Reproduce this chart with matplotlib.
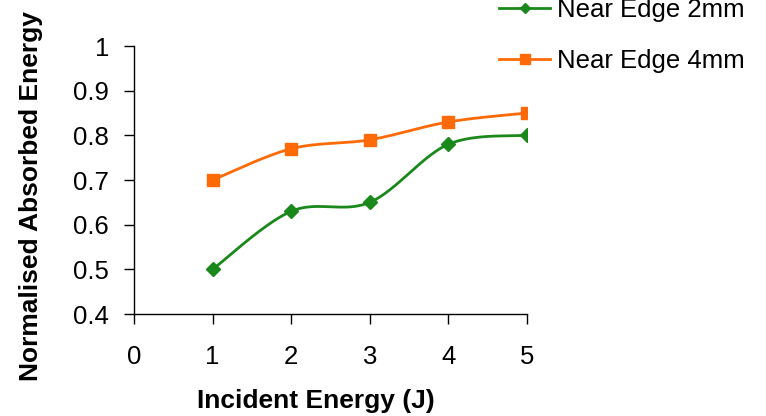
import numpy as np
import matplotlib
matplotlib.use("Agg")
import matplotlib.pyplot as plt
from matplotlib.lines import Line2D

plt.rcParams['font.family'] = ['Liberation Sans', 'DejaVu Sans']

energy = [1, 2, 3, 4, 5]
edge_2mm = [0.50, 0.63, 0.65, 0.78, 0.80]
edge_4mm = [0.70, 0.77, 0.79, 0.83, 0.85]
labels = ["Near Edge 2mm", "Near Edge 4mm"]
x_ticks = [0, 1, 2, 3, 4, 5]
y_ticks = [0.4, 0.5, 0.6, 0.7, 0.8, 0.9, 1.0]
y_tick_labels = ["0.4", "0.5", "0.6", "0.7", "0.8", "0.9", "1"]


def smooth(xs, ys, n=40):
    """Catmull-Rom style cubic Bezier smoothing through the given points."""
    p = np.column_stack([xs, ys]).astype(float)
    ext = np.vstack([p[0], p, p[-1]])
    out = []
    t = np.linspace(0, 1, n)[:, None]
    for i in range(1, len(ext) - 2):
        p0, p1, p2, p3 = ext[i - 1], ext[i], ext[i + 1], ext[i + 2]
        c1 = p1 + (p2 - p0) / 6.0
        c2 = p2 - (p3 - p1) / 6.0
        seg = ((1 - t) ** 3) * p1 + 3 * ((1 - t) ** 2) * t * c1 + 3 * (1 - t) * t ** 2 * c2 + t ** 3 * p2
        out.append(seg if i == 1 else seg[1:])
    s = np.vstack(out)
    return s[:, 0], s[:, 1]


W, H = 766, 416
fig = plt.figure(figsize=(W / 100, H / 100), dpi=100)
ax = fig.add_axes([134 / W, 1 - 314 / H, (527 - 134) / W, (314 - 46) / H])

green = '#1a881a'
orange = '#ff6a06'

sx, sy = smooth(energy, edge_2mm)
ax.plot(sx, sy, color=green, lw=2.0, solid_capstyle='round')
ax.plot(energy, edge_2mm, linestyle='none', marker='D', markersize=6.8, color=green)

sx, sy = smooth(energy, edge_4mm)
ax.plot(sx, sy, color=orange, lw=2.0, solid_capstyle='round')
ax.plot(energy, edge_4mm, linestyle='none', marker='s', markersize=8.3, color=orange)

ax.set_xlim(0, 5)
ax.set_ylim(0.4, 1.0)
ax.set_xticks(x_ticks)
ax.set_yticks(y_ticks)
ax.set_yticklabels(y_tick_labels)
ax.spines['top'].set_visible(False)
ax.spines['right'].set_visible(False)
for s in ('left', 'bottom'):
    ax.spines[s].set_linewidth(1.0)
    ax.spines[s].set_color('black')
ax.tick_params(axis='both', labelsize=18.5, colors='black', width=1.0, length=7, direction='out')
ax.tick_params(axis='x', pad=15)
ax.tick_params(axis='y', pad=11)
ax.patch.set_visible(False)

fig.text(316 / W, 1 - 401 / H, "Incident Energy (J)", ha='center', va='center',
         fontsize=19, fontweight='bold')
fig.text(31 / W, 1 - 196 / H, "Normalised Absorbed Energy", ha='center', va='center',
         rotation=90, fontsize=19, fontweight='bold')

handles = [
    Line2D([], [], color=green, lw=2.0, marker='D', markersize=5.0),
    Line2D([], [], color=orange, lw=2.0, marker='s', markersize=6.5),
]
leg = fig.legend(handles, labels, loc='upper left', bbox_to_anchor=(499 / W, 1 + 2 / H),
                 frameon=False, fontsize=18.5, handlelength=2.0, handletextpad=0.25,
                 labelspacing=1.05, borderpad=0, borderaxespad=0)

fig.savefig("out.png", dpi=100)
